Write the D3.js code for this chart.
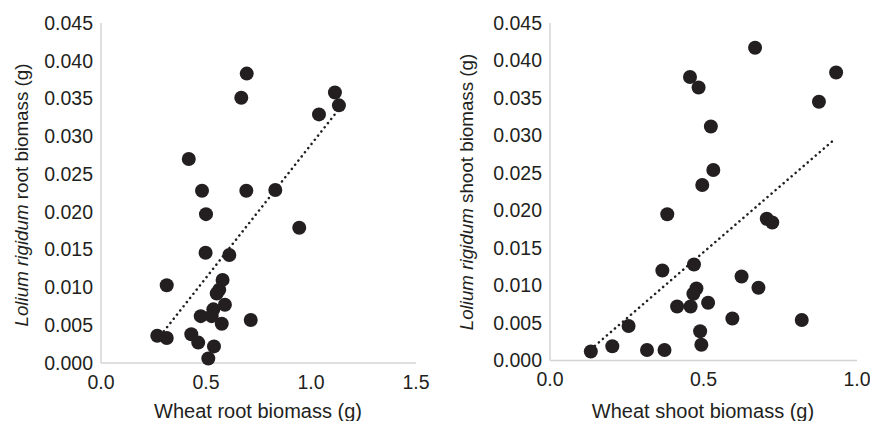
<!DOCTYPE html>
<html>
<head>
<meta charset="utf-8">
<script src="https://cdn.jsdelivr.net/npm/d3@7"></script>
<style>
  body { margin: 0; background: #fff; }
  svg text { font-family: "Liberation Sans", Arial, sans-serif; fill: #231f20; }
</style>
</head>
<body>
<div id="chart"></div>
<script>
// left panel: root biomass
const rootX = [0.694, 0.668, 1.114, 1.133, 1.038, 0.418, 0.481, 0.692, 0.830, 0.500,
  0.944, 0.498, 0.611, 0.313, 0.579, 0.563, 0.551, 0.590, 0.535, 0.527,
  0.475, 0.575, 0.713, 0.268, 0.313, 0.430, 0.463, 0.538, 0.511];
const rootY = [0.0383, 0.0351, 0.0358, 0.0341, 0.0329, 0.0270, 0.0228, 0.0228, 0.0229, 0.0197,
  0.0179, 0.0146, 0.0143, 0.0103, 0.0110, 0.0097, 0.0092, 0.0077, 0.0071, 0.0062,
  0.0062, 0.0052, 0.0057, 0.0036, 0.0033, 0.0038, 0.0027, 0.0022, 0.0006];
const rootTrendX = [0.268, 1.133];
const rootTrendY = [0.0031, 0.0336];

// right panel: shoot biomass
const shootX = [0.668, 0.456, 0.484, 0.932, 0.876, 0.524, 0.532, 0.496, 0.382, 0.706,
  0.724, 0.469, 0.366, 0.624, 0.679, 0.477, 0.467, 0.414, 0.458, 0.515,
  0.594, 0.820, 0.256, 0.489, 0.493, 0.203, 0.316, 0.373, 0.133];
const shootY = [0.0417, 0.0378, 0.0364, 0.0384, 0.0345, 0.0312, 0.0254, 0.0234, 0.0195, 0.0189,
  0.0184, 0.0128, 0.0120, 0.0112, 0.0097, 0.0096, 0.0089, 0.0072, 0.0072, 0.0077,
  0.0056, 0.0054, 0.0046, 0.0039, 0.0021, 0.0019, 0.0014, 0.0014, 0.0012];
const shootTrendX = [0.133, 0.930];
const shootTrendY = [0.0015, 0.0296];

const yTicks = [0, 0.005, 0.010, 0.015, 0.020, 0.025, 0.030, 0.035, 0.040, 0.045];
const rootXTicks = [0, 0.5, 1.0, 1.5];
const shootXTicks = [0, 0.5, 1.0];

const svg = d3.select("#chart").append("svg")
  .attr("width", 870).attr("height", 421);

function drawPanel(opts) {
  const x = d3.scaleLinear().domain(opts.xDomain).range([opts.left, opts.right]);
  const y = d3.scaleLinear().domain([0, 0.045]).range([opts.bottom, opts.top]);
  const g = svg.append("g");

  // axis lines
  g.append("line")
    .attr("x1", opts.left).attr("x2", opts.left)
    .attr("y1", opts.top).attr("y2", opts.bottom)
    .attr("stroke", "#d4d4d4").attr("stroke-width", 1.5);
  g.append("line")
    .attr("x1", opts.left).attr("x2", opts.right)
    .attr("y1", opts.bottom).attr("y2", opts.bottom)
    .attr("stroke", "#d4d4d4").attr("stroke-width", 1.5);

  // tick labels
  g.selectAll(".ytick").data(yTicks).enter().append("text")
    .attr("x", opts.left - 8)
    .attr("y", d => y(d))
    .attr("dy", "0.35em")
    .attr("text-anchor", "end")
    .attr("font-size", 19.5)
    .text(d => d3.format(".3f")(d));
  g.selectAll(".xtick").data(opts.xTicks).enter().append("text")
    .attr("x", d => x(d))
    .attr("y", opts.bottom + 19)
    .attr("dy", "0.35em")
    .attr("text-anchor", "middle")
    .attr("font-size", 19.5)
    .text(d => d3.format(".1f")(d));

  // axis titles
  g.append("text")
    .attr("x", opts.xTitleX).attr("y", 418)
    .attr("text-anchor", "middle")
    .attr("font-size", 20)
    .text(opts.xTitle);
  const yt = g.append("text")
    .attr("transform", `translate(${opts.yTitleX},${opts.yTitleY}) rotate(-90)`)
    .attr("text-anchor", "middle")
    .attr("font-size", 18.8);
  yt.append("tspan").attr("font-style", "italic").text("Lolium rigidum");
  yt.append("tspan").text(opts.yTitle);

  // trend line
  const line = d3.line().x(d => x(d[0])).y(d => y(d[1]));
  g.append("path")
    .datum(d3.zip(opts.trendX, opts.trendY))
    .attr("d", line)
    .attr("fill", "none")
    .attr("stroke", "#231f20")
    .attr("stroke-width", 2.5)
    .attr("stroke-linecap", "round")
    .attr("stroke-dasharray", "0.1 5.2");

  // points
  g.selectAll("circle").data(d3.zip(opts.xs, opts.ys)).enter().append("circle")
    .attr("cx", d => x(d[0]))
    .attr("cy", d => y(d[1]))
    .attr("r", 7)
    .attr("fill", "#231f20");
}

drawPanel({
  xDomain: [0, 1.5], left: 101, right: 416, top: 23, bottom: 363,
  xTicks: rootXTicks, xs: rootX, ys: rootY,
  trendX: rootTrendX, trendY: rootTrendY,
  xTitle: "Wheat root biomass (g)", xTitleX: 258,
  yTitle: " root biomass (g)", yTitleX: 28, yTitleY: 195
});

drawPanel({
  xDomain: [0, 1.0], left: 550, right: 857, top: 23, bottom: 360.5,
  xTicks: shootXTicks, xs: shootX, ys: shootY,
  trendX: shootTrendX, trendY: shootTrendY,
  xTitle: "Wheat shoot biomass (g)", xTitleX: 703,
  yTitle: " shoot biomass (g)", yTitleX: 473, yTitleY: 192
});
</script>
</body>
</html>
